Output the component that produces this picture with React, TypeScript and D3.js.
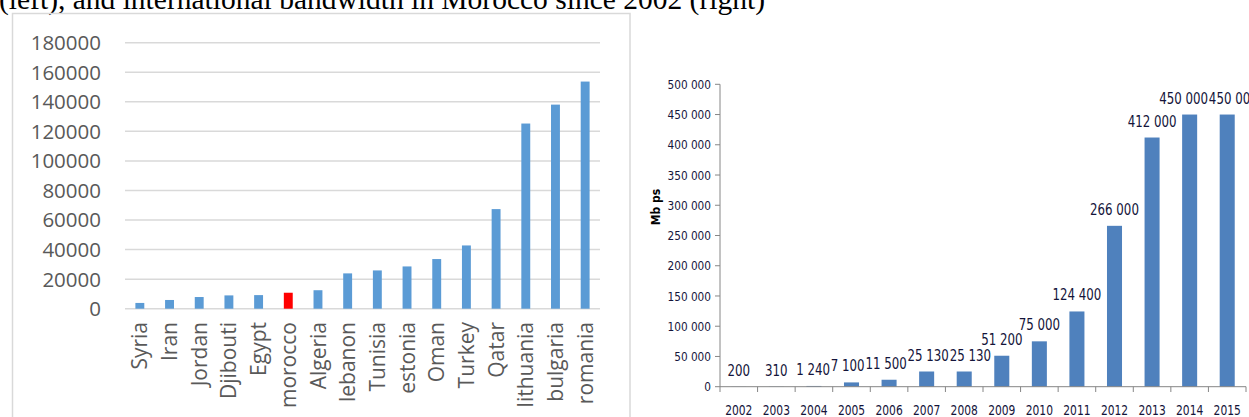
import React from "react";
import * as d3 from "d3";

// Left chart: international bandwidth by country
const countries = [
  "Syria", "Iran", "Jordan", "Djibouti", "Egypt", "morocco", "Algeria", "lebanon",
  "Tunisia", "estonia", "Oman", "Turkey", "Qatar", "lithuania", "bulgaria", "romania",
];
const countryValues = [
  3900, 5900, 7900, 9000, 9200, 10800, 12500, 23900,
  25900, 28600, 33600, 42800, 67400, 125300, 138100, 153700,
];
const highlightCountry = "morocco";
const leftTicks = [0, 20000, 40000, 60000, 80000, 100000, 120000, 140000, 160000, 180000];

// Right chart: Morocco international bandwidth per year (Mbps)
const years = ["2002", "2003", "2004", "2005", "2006", "2007", "2008", "2009", "2010", "2011", "2012", "2013", "2014", "2015"];
const bandwidth = [200, 310, 1240, 7100, 11500, 25130, 25130, 51200, 75000, 124400, 266000, 412000, 450000, 450000];
const rightTicks = [0, 50000, 100000, 150000, 200000, 250000, 300000, 350000, 400000, 450000, 500000];

const caption = "(left), and international bandwidth in Morocco since 2002 (right)";

const spaced = (v: number) => d3.format(",")(v).replace(/,/g, " ");

// condensed label settings for the right chart
const LABEL_SIZE = 16;
const LABEL_SQUEEZE = 0.82;
const approxWidth = (s: string) =>
  s.split("").reduce((w, ch) => w + (ch === " " ? 0.29 : 0.57), 0) * LABEL_SIZE * LABEL_SQUEEZE;

// push apart neighbouring value labels that sit at about the same height
function spreadLabels(items: { x: number; y: number; w: number }[]) {
  const out = items.map((d) => ({ ...d }));
  for (let pass = 0; pass < 30; pass++) {
    let moved = false;
    for (let i = 0; i < out.length - 1; i++) {
      const a = out[i];
      const b = out[i + 1];
      if (Math.abs(a.y - b.y) > LABEL_SIZE * 0.8) continue;
      const overlap = a.x + a.w / 2 - (b.x - b.w / 2) + 1;
      if (overlap > 0.1) {
        a.x -= overlap / 2;
        b.x += overlap / 2;
        moved = true;
      }
    }
    if (!moved) break;
  }
  return out;
}

export default function App() {
  // left chart scales
  const ly = d3.scaleLinear().domain([0, 180000]).range([308.7, 42.7]);
  const lx = d3.scaleBand<string>().domain(countries).range([125, 600]).paddingInner(0.7).paddingOuter(0.35);

  // right chart scales
  const ry = d3.scaleLinear().domain([0, 500000]).range([386.7, 84.3]);
  const rx = d3.scaleBand<string>().domain(years).range([720, 1246]).paddingInner(0.6).paddingOuter(0.3);

  const leftFont = "'Open Sans', 'Noto Sans', sans-serif";
  const rightFont = "'DejaVu Sans Condensed', 'Liberation Sans', sans-serif";
  const navy = "#14143a";

  const xBoundaries = years.map((_, i) => 720 + i * rx.step()).concat([1246]);

  const valueLabels = spreadLabels(
    years.map((yr, i) => ({
      x: (rx(yr) ?? 0) + rx.bandwidth() / 2,
      y: ry(bandwidth[i]) - 11,
      w: approxWidth(spaced(bandwidth[i])),
    }))
  );

  return (
    <svg width={1249} height={417} style={{ position: "absolute", left: 0, top: 0, background: "#fff" }}>
      <text x={-1} y={8.5} fontFamily="'Times New Roman', 'Liberation Serif', serif" fontSize={29.5} fill="#000">
        {caption}
      </text>

      {/* left chart frame */}
      <rect x={12.5} y={13.5} width={617.5} height={420} fill="none" stroke="#d9d9d9" strokeWidth={1.5} />

      {leftTicks.map((t) => (
        <g key={t}>
          <line x1={125} x2={600} y1={ly(t)} y2={ly(t)} stroke="#d9d9d9" strokeWidth={1.5} />
          <text x={101} y={ly(t)} dy="0.36em" textAnchor="end" fontFamily={leftFont} fontSize={20.5} fill="#595959">
            {t}
          </text>
        </g>
      ))}

      {countries.map((c, i) => (
        <rect
          key={c}
          x={lx(c)}
          y={ly(countryValues[i])}
          width={lx.bandwidth()}
          height={ly(0) - ly(countryValues[i])}
          fill={c === highlightCountry ? "#ff0000" : "#5b9bd5"}
        />
      ))}

      {countries.map((c) => {
        const cx = (lx(c) ?? 0) + lx.bandwidth() / 2;
        return (
          <text
            key={c}
            transform={`translate(${cx},322) rotate(-90)`}
            dy="0.36em"
            textAnchor="end"
            fontFamily={leftFont}
            fontSize={21}
            fill="#595959"
          >
            {c}
          </text>
        );
      })}

      {/* right chart */}
      <text
        transform="translate(656,207) rotate(-90)"
        textAnchor="middle"
        dy="0.36em"
        fontFamily={rightFont}
        fontWeight="bold"
        fontSize={12}
        fill="#000"
      >
        Mb ps
      </text>

      {rightTicks.map((t) => (
        <g key={t}>
          <line x1={715} x2={720} y1={ry(t)} y2={ry(t)} stroke="#868686" strokeWidth={1} />
          <text
            transform={`translate(711,${ry(t)}) scale(0.9,1)`}
            dy="0.36em"
            textAnchor="end"
            fontFamily={rightFont}
            fontSize={13}
            fill={navy}
          >
            {spaced(t)}
          </text>
        </g>
      ))}

      {years.map((yr, i) => (
        <rect
          key={yr}
          x={rx(yr)}
          y={ry(bandwidth[i])}
          width={rx.bandwidth()}
          height={ry(0) - ry(bandwidth[i])}
          fill="#4f81bd"
        />
      ))}

      <line x1={720} x2={720} y1={84.3} y2={386.7} stroke="#868686" strokeWidth={1} />
      <line x1={720} x2={1246} y1={386.7} y2={386.7} stroke="#868686" strokeWidth={1} />
      {xBoundaries.map((bx, i) => (
        <line key={i} x1={bx} x2={bx} y1={386.7} y2={392} stroke="#868686" strokeWidth={1} />
      ))}

      {years.map((yr) => (
        <text
          key={yr}
          transform={`translate(${(rx(yr) ?? 0) + rx.bandwidth() / 2},415) scale(0.85,1)`}
          textAnchor="middle"
          fontFamily={rightFont}
          fontSize={14}
          fill={navy}
        >
          {yr}
        </text>
      ))}

      {valueLabels.map((d, i) => (
        <text
          key={years[i]}
          transform={`translate(${d.x},${d.y}) scale(${LABEL_SQUEEZE},1)`}
          textAnchor="middle"
          fontFamily={rightFont}
          fontSize={LABEL_SIZE}
          fill={navy}
        >
          {spaced(bandwidth[i])}
        </text>
      ))}
    </svg>
  );
}
